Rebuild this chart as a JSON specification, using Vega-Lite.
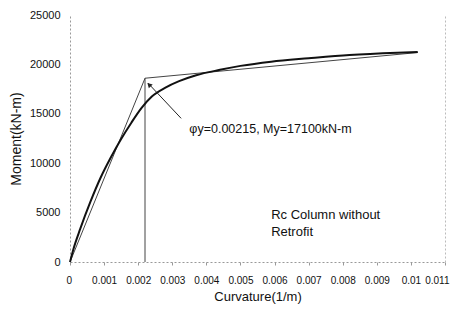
{
  "$schema": "https://vega.github.io/schema/vega-lite/v6.json",
  "width": 375,
  "height": 247,
  "autosize": "none",
  "padding": {"left": 70, "top": 15, "right": 15, "bottom": 51},
  "background": "white",
  "config": {
    "view": {"stroke": null},
    "font": "Liberation Sans",
    "axis": {
      "grid": false,
      "labelFont": "Liberation Sans",
      "titleFont": "Liberation Sans",
      "labelColor": "#111",
      "titleColor": "#111",
      "titleFontWeight": "normal",
      "domainColor": "#999",
      "domainDash": [2, 2],
      "domainWidth": 1,
      "tickColor": "#999",
      "tickSize": 3
    }
  },
  "datasets": {
    "curve": [
      {"phi": 0, "m": 0},
      {"phi": 0.0001, "m": 1300},
      {"phi": 0.0003, "m": 3350},
      {"phi": 0.0006, "m": 6100},
      {"phi": 0.0009, "m": 8550},
      {"phi": 0.0012, "m": 10600},
      {"phi": 0.0015, "m": 12450},
      {"phi": 0.0018, "m": 14100},
      {"phi": 0.0021, "m": 15600},
      {"phi": 0.0024, "m": 16750},
      {"phi": 0.0028, "m": 17650},
      {"phi": 0.0032, "m": 18300},
      {"phi": 0.0037, "m": 18900},
      {"phi": 0.0044, "m": 19450},
      {"phi": 0.005, "m": 19850},
      {"phi": 0.0059, "m": 20280},
      {"phi": 0.007, "m": 20620},
      {"phi": 0.0082, "m": 20950},
      {"phi": 0.0096, "m": 21180},
      {"phi": 0.0102, "m": 21250}
    ],
    "bilinear": [
      {"phi": 0, "m": 0},
      {"phi": 0.0022, "m": 18600},
      {"phi": 0.0102, "m": 21200}
    ],
    "yield": [
      {"phi": 0.0022, "m": 0},
      {"phi": 0.0022, "m": 18600}
    ],
    "arrow": [
      {"phi": 0.00326, "m": 14540},
      {"phi": 0.00229, "m": 18100}
    ],
    "arrowhead": [
      {"phi": 0.00232, "m": 17950}
    ],
    "notes": [
      {"phi": 0.0035, "m": 13500, "label": "φy=0.00215, My=17100kN-m", "size": 12.5},
      {"phi": 0.0059, "m": 4760, "label": "Rc Column without", "size": 13},
      {"phi": 0.0059, "m": 3070, "label": "Retrofit", "size": 13}
    ]
  },
  "encoding": {
    "x": {
      "field": "phi", "type": "quantitative",
      "scale": {"domain": [0, 0.011], "nice": false},
      "axis": {
        "title": "Curvature(1/m)", "values": [0, 0.001, 0.002, 0.003, 0.004, 0.005, 0.006, 0.007, 0.008, 0.009, 0.01, 0.011],
        "format": ".3~f", "labelFontSize": 10, "titleFontSize": 13, "labelPadding": 10, "titlePadding": 5,
        "labelFlush": true, "labelFlushOffset": 4, "labelOverlap": false
      }
    },
    "y": {
      "field": "m", "type": "quantitative",
      "scale": {"domain": [0, 25000], "nice": false},
      "axis": {
        "title": "Moment(kN-m)", "values": [0, 5000, 10000, 15000, 20000, 25000],
        "format": "d", "labelFontSize": 11, "titleFontSize": 14, "labelPadding": 10, "titlePadding": 6,
        "ticks": false, "labelFlush": false
      }
    }
  },
  "layer": [
    {
      "layer": [
        {
          "data": {"name": "bilinear"},
          "mark": {"type": "line", "color": "#444", "strokeWidth": 1}
        },
        {
          "data": {"name": "yield"},
          "mark": {"type": "line", "color": "#444", "strokeWidth": 1}
        },
        {
          "data": {"name": "curve"},
          "mark": {"type": "line", "color": "#111", "strokeWidth": 2, "interpolate": "monotone"}
        },
        {
          "data": {"name": "arrow"},
          "mark": {"type": "line", "color": "#222", "strokeWidth": 1}
        },
        {
          "data": {"name": "arrowhead"},
          "mark": {"type": "point", "shape": "triangle-up", "filled": true, "color": "#222", "size": 30, "angle": 315, "opacity": 1}
        },
        {
          "data": {"name": "notes"},
          "mark": {"type": "text", "align": "left", "baseline": "middle", "color": "#111", "font": "Liberation Sans"},
          "encoding": {
            "text": {"field": "label"},
            "size": {"field": "size", "type": "quantitative", "scale": null}
          }
        }
      ]
    },
    {
      "data": {"name": "bilinear"},
      "mark": {"type": "line", "opacity": 0},
      "encoding": {
        "y": {
          "field": "m", "type": "quantitative",
          "axis": {"orient": "right", "labels": false, "ticks": false, "values": [], "title": null, "domainColor": "#bbb"}
        }
      }
    }
  ],
  "resolve": {"axis": {"y": "independent"}}
}
